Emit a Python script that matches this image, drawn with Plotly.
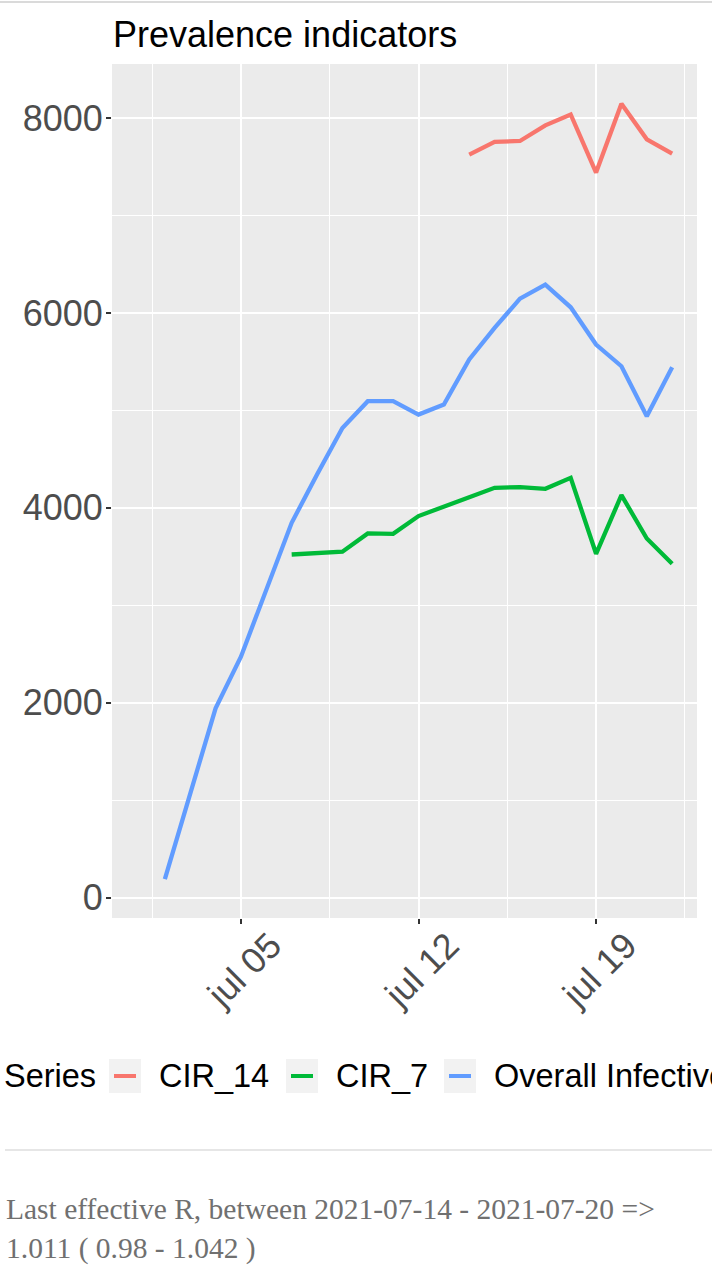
import plotly.graph_objects as go

# data
blue_dates = ['2021-07-%02d' % d for d in range(2, 23)]
blue_values = [189, 1077, 1942, 2472, 3160, 3846, 4342, 4820, 5094, 5094, 4957,
               5060, 5523, 5847, 6147, 6290, 6058, 5676, 5453, 4940, 5443]
green_dates = ['2021-07-%02d' % d for d in range(7, 23)]
green_values = [3521, 3538, 3549, 3737, 3733, 3915, 4017, 4109, 4205, 4212,
                4195, 4308, 3528, 4130, 3685, 3426]
red_dates = ['2021-07-%02d' % d for d in range(14, 23)]
red_values = [7625, 7755, 7765, 7925, 8037, 7441, 8147, 7782, 7635]

series_names = ['CIR_14', 'CIR_7', 'Overall Infectives']
series_colors = ['#F8766D', '#00BA38', '#619CFF']

x_tickvals = ['2021-07-05', '2021-07-12', '2021-07-19']
x_ticktext = ['jul 05', 'jul 12', 'jul 19']
y_tickvals = [0, 2000, 4000, 6000, 8000]

footer_lines = ['Last effective R, between 2021-07-14 - 2021-07-20 =>',
                '1.011 ( 0.98 - 1.042 )']

# plot area in pixels (figure is 712 x 1280)
L, R, T, B = 112, 697, 64, 918
W, H = 712, 1280


def px_x(p):  # pixel x -> paper x
    return (p - L) / (R - L)


def px_y(p):  # pixel y -> paper y
    return (B - p) / (B - T)


fig = go.Figure()
for name, col, xs, ys in zip(series_names, series_colors,
                             [red_dates, green_dates, blue_dates],
                             [red_values, green_values, blue_values]):
    fig.add_trace(go.Scatter(x=xs, y=ys, mode='lines', name=name,
                             line=dict(color=col, width=4.3), showlegend=False))

font_main = 'Liberation Sans, Arial, sans-serif'

fig.update_layout(
    width=W, height=H,
    margin=dict(l=L, r=W - R, t=T, b=H - B, pad=0),
    paper_bgcolor='white', plot_bgcolor='#EBEBEB',
    title=dict(text='Prevalence indicators', x=113 / W,
               xanchor='left', y=1 - 34 / H, yanchor='middle',
               font=dict(family=font_main, size=36, color='black')),
    xaxis=dict(range=['2021-06-29 22:00', '2021-07-22 23:30'],
               tickvals=x_tickvals, ticktext=x_ticktext, tickangle=-45,
               tickfont=dict(family=font_main, size=36, color='#4D4D4D'),
               ticks='outside', ticklen=5, tickwidth=1.5, tickcolor='#333333',
               ticklabelshift=30, ticklabelstandoff=-14,
               showgrid=True, gridcolor='white', gridwidth=2, zeroline=False,
               minor=dict(tick0='2021-07-01 12:00', dtick=7 * 86400000,
                          showgrid=True, gridcolor='white', gridwidth=1)),
    yaxis=dict(range=[-210, 8555], tickvals=y_tickvals, tickformat='d',
               tickfont=dict(family=font_main, size=36, color='#4D4D4D'),
               ticks='outside', ticklen=5, tickwidth=1.5, tickcolor='#333333',
               ticklabelstandoff=-4,
               showgrid=True, gridcolor='white', gridwidth=2, zeroline=False,
               minor=dict(tick0=1000, dtick=2000, showgrid=True,
                          gridcolor='white', gridwidth=1)),
)

# hand-made legend along the bottom (runs off the right edge like the original)
leg_y = 1076
fig.add_annotation(text='Series', x=px_x(2), y=px_y(leg_y), xref='paper', yref='paper',
                   xanchor='left', yanchor='middle', showarrow=False,
                   font=dict(family=font_main, size=32.5, color='black'))
key_x = [109, 286, 444]
for kx, name, col in zip(key_x, series_names, series_colors):
    fig.add_shape(type='rect', xref='paper', yref='paper',
                  x0=px_x(kx), x1=px_x(kx + 32), y0=px_y(leg_y - 17), y1=px_y(leg_y + 17),
                  fillcolor='#F2F2F2', line=dict(width=0))
    fig.add_shape(type='line', xref='paper', yref='paper',
                  x0=px_x(kx + 5), x1=px_x(kx + 27), y0=px_y(leg_y), y1=px_y(leg_y),
                  line=dict(color=col, width=4))
    fig.add_annotation(text=name, x=px_x(kx + 48), y=px_y(leg_y), xref='paper', yref='paper',
                       xanchor='left', yanchor='middle', showarrow=False,
                       font=dict(family=font_main, size=32.5, color='black'))

# thin rules at top and above the footer
fig.add_shape(type='line', xref='paper', yref='paper', x0=px_x(0), x1=px_x(W),
              y0=px_y(2), y1=px_y(2), line=dict(color='#DADADA', width=2))
fig.add_shape(type='line', xref='paper', yref='paper', x0=px_x(5), x1=px_x(W),
              y0=px_y(1150), y1=px_y(1150), line=dict(color='#E6E6E6', width=2))

for i, line in enumerate(footer_lines):
    fig.add_annotation(text=line, x=px_x(4), y=px_y(1209 + 39 * i), xref='paper', yref='paper',
                       xanchor='left', yanchor='middle', showarrow=False,
                       font=dict(family='Liberation Serif, serif', size=29.5, color='#707070'))

fig.write_html('out.html', config={'displayModeBar': False},
               post_script="document.body.style.margin='0';")
